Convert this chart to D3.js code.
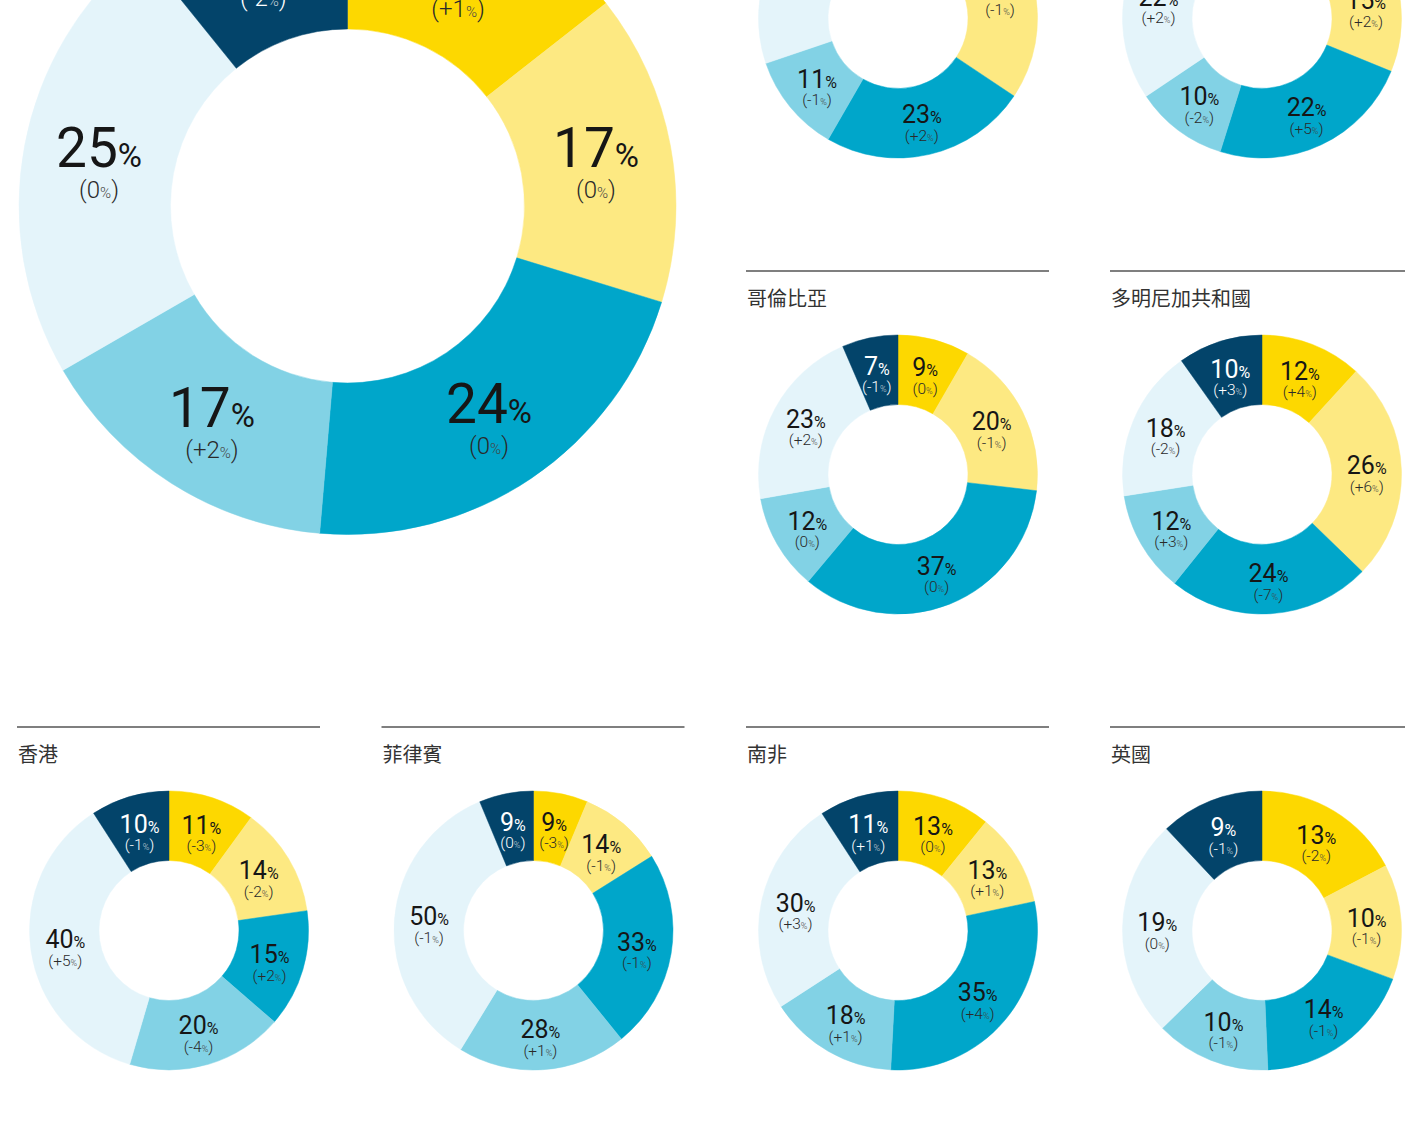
<!DOCTYPE html>
<html><head><meta charset="utf-8">
<script src="https://cdn.jsdelivr.net/npm/d3@7"></script>
<style>html,body{margin:0;padding:0;background:#fff;overflow:hidden}</style>
</head><body><svg id="c" width="1405" height="1125"></svg>
<script>
// Segment order (clockwise from 12 o'clock)
const segmentKeys = ["seg1", "seg2", "seg3", "seg4", "seg5", "seg6"];
const segmentColors = ["#FDD800", "#FDE982", "#00A6CA", "#82D2E5", "#E4F4FA", "#03446A"];
const labelColors = ["#161616", "#161616", "#161616", "#161616", "#161616", "#ffffff"];

// Panels
const panelTitles = ["", "", "", "哥倫比亞", "多明尼加共和國", "香港", "菲律賓", "南非", "英國"];
const shareValues = [
  [16, 17, 24, 17, 25, 12],
  [8, 25, 23, 11, 23, 6],
  [14, 15, 22, 10, 22, 10],
  [9, 20, 37, 12, 23, 7],
  [12, 26, 24, 12, 18, 10],
  [11, 14, 15, 20, 40, 10],
  [9, 14, 33, 28, 50, 9],
  [13, 13, 35, 18, 30, 11],
  [13, 10, 14, 10, 19, 9]
];
const changeValues = [
  [1, 0, 0, 2, 0, -2],
  [1, -1, 2, -1, 0, -1],
  [1, 2, 5, -2, 2, 0],
  [0, -1, 0, 0, 2, -1],
  [4, 6, -7, 3, -2, 3],
  [-3, -2, 2, -4, 5, -1],
  [-3, -1, -1, 1, -1, 0],
  [0, 1, 4, 1, 3, 1],
  [-2, -1, -1, -1, 0, -1]
];

const svg = d3.select("#c");
const W = 1405, H = 1125;

const colStarts = [17, 381.5, 746, 1110];
const rowLines = [-185, 271, 727];
const layout = [
  {cx: 347.5, cy: 206, ro: 328.5, ri: 177, big: true},
  {col: 2, row: 0}, {col: 3, row: 0},
  {col: 2, row: 1}, {col: 3, row: 1},
  {col: 0, row: 2}, {col: 1, row: 2}, {col: 2, row: 2}, {col: 3, row: 2}
].map(p => {
  if (p.big) return p;
  const x0 = colStarts[p.col], ly = rowLines[p.row];
  return {x0, ly, cx: x0 + 152, cy: ly + 203.5, ro: 139.5, ri: 70, big: false};
});

const pie = d3.pie().sort(null).value(d => d.v);
const fmtChange = c => c > 0 ? "+" + c : (c < 0 ? "-" + Math.abs(c) : "0");

layout.forEach((p, i) => {
  const g = svg.append("g");
  if (!p.big) {
    g.append("line")
      .attr("x1", p.x0).attr("x2", Math.min(p.x0 + 303, W))
      .attr("y1", p.ly).attr("y2", p.ly)
      .attr("stroke", "#555").attr("stroke-width", 1.5);
    g.append("text")
      .attr("x", p.x0 + 1).attr("y", p.ly + 26)
      .attr("dominant-baseline", "central")
      .attr("font-family", "'Noto Sans CJK TC','Noto Sans CJK SC',sans-serif")
      .attr("font-size", 20).attr("fill", "#333")
      .text(panelTitles[i]);
  }
  const data = segmentKeys.map((k, j) => ({k, j, v: shareValues[i][j], c: changeValues[i][j]}));
  const arcs = pie(data);
  const arc = d3.arc().innerRadius(p.ri).outerRadius(p.ro);
  const dg = g.append("g").attr("transform", `translate(${p.cx},${p.cy})`);
  dg.selectAll("path").data(arcs).join("path")
    .attr("d", arc)
    .attr("fill", d => segmentColors[d.data.j])
    .attr("stroke", d => segmentColors[d.data.j]).attr("stroke-width", 0.5);

  const fs = p.big ? {main: 55, pct: 33, sub: 24, subPct: 15, dyMain: -12, dySub: 30}
                   : {main: 25, pct: 16, sub: 15.5, subPct: 9, dyMain: -6, dySub: 15};
  const lbl = dg.selectAll("g.lbl").data(arcs).join("g").attr("class", "lbl")
    .attr("transform", d => `translate(${arc.centroid(d)})`);
  const ff = "Roboto, 'Liberation Sans', sans-serif";
  const t1 = lbl.append("text")
    .attr("text-anchor", "middle")
    .attr("y", fs.dyMain + fs.main * 0.355)
    .attr("font-family", ff).attr("font-weight", 400)
    .attr("fill", d => labelColors[d.data.j]);
  t1.append("tspan").attr("font-size", fs.main).text(d => d.data.v);
  t1.append("tspan").attr("font-size", fs.pct).text("%");
  const t2 = lbl.append("text")
    .attr("text-anchor", "middle")
    .attr("y", fs.dySub + fs.sub * 0.355)
    .attr("font-family", ff).attr("font-weight", 300)
    .attr("fill", d => d.data.j === 5 ? "#ffffff" : "#2a2a2a");
  t2.append("tspan").attr("font-size", fs.sub).text(d => "(" + fmtChange(d.data.c));
  t2.append("tspan").attr("font-size", fs.subPct)
    .attr("fill", d => d.data.j === 5 ? "#c8d3da" : "#444").text("%");
  t2.append("tspan").attr("font-size", fs.sub).text(")");
});
</script>
</body></html>
